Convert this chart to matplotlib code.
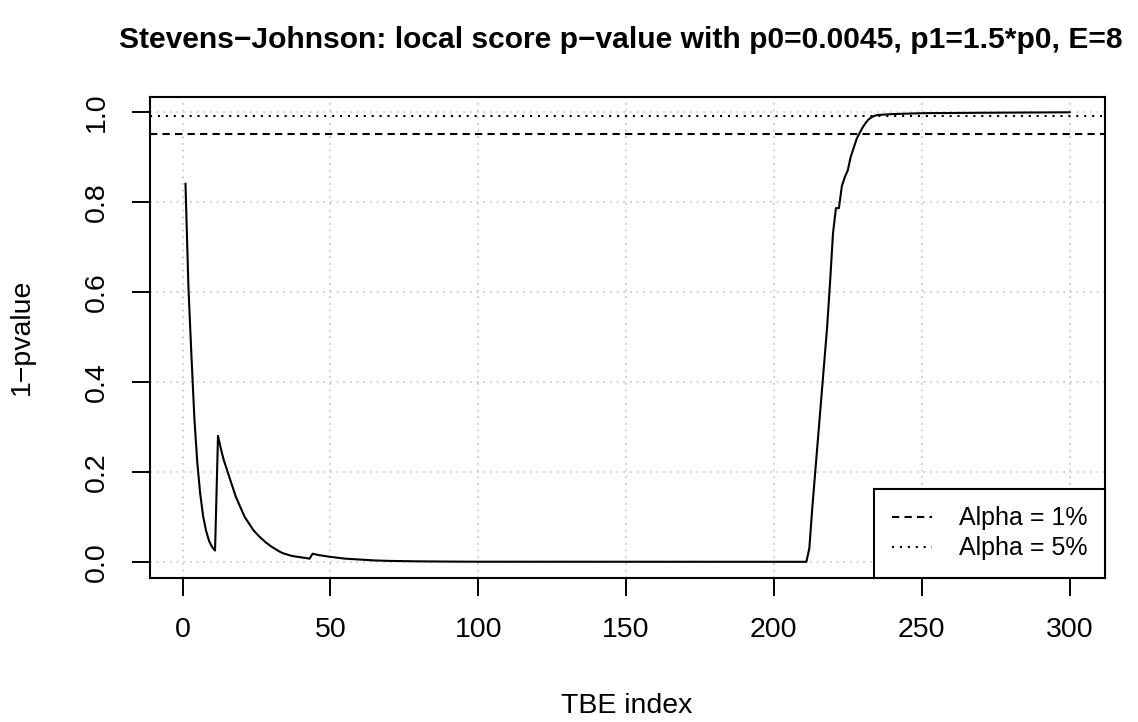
import matplotlib
matplotlib.use("Agg")
import matplotlib.pyplot as plt
from matplotlib.lines import Line2D

plt.rcParams['font.family'] = ['Liberation Sans', 'DejaVu Sans']

# data (TBE index -> 1-pvalue)
tbe_index = [1, 2, 3, 4, 5, 6, 7, 8, 9, 10, 11,
             12, 13, 14, 15, 16, 17, 18, 19, 20, 21, 22, 23, 24, 25, 26, 27,
             28, 29, 30, 31, 32, 33, 34, 35, 36, 37, 38, 39, 40, 41, 42, 43,
             44, 46, 48, 50, 55, 60, 65, 70, 80, 90, 100,
             211, 212, 213, 214, 215, 216, 217, 218, 219, 220, 221, 222,
             223, 224, 225, 226, 227, 228, 229, 230, 231, 232, 233, 234, 235,
             240, 250, 270, 300]
one_minus_p = [0.84, 0.61, 0.46, 0.32, 0.22, 0.15, 0.10, 0.068, 0.046, 0.033, 0.025,
               0.28, 0.25, 0.225, 0.205, 0.185, 0.165, 0.145, 0.13, 0.115, 0.10, 0.09,
               0.08, 0.07, 0.063, 0.056, 0.05, 0.044, 0.039, 0.034, 0.030, 0.026,
               0.022, 0.019, 0.017, 0.015, 0.013, 0.012, 0.011, 0.010, 0.009, 0.008, 0.007,
               0.018, 0.015, 0.013, 0.011, 0.007, 0.005, 0.003, 0.002, 0.001, 0.0005, 0.0002,
               0.0, 0.03, 0.12, 0.20, 0.28, 0.36, 0.44, 0.52, 0.62, 0.73, 0.786, 0.786,
               0.835, 0.855, 0.87, 0.90, 0.92, 0.94, 0.953, 0.965, 0.975, 0.983, 0.988,
               0.991, 0.993, 0.995, 0.997, 0.998, 0.999]

alpha_levels = [0.95, 0.99]
alpha_labels = ["Alpha = 1%", "Alpha = 5%"]
alpha_dashes = [(3.5, 2.5), (1, 2.8)]

x_ticks = [0, 50, 100, 150, 200, 250, 300]
y_ticks = [0.0, 0.2, 0.4, 0.6, 0.8, 1.0]

fig = plt.figure(figsize=(11.38, 7.22), dpi=100)
ax = fig.add_axes([150 / 1138, 1 - 578 / 722, 955 / 1138, 481 / 722])

# grid like R's grid()
for xv in x_ticks:
    ax.axvline(xv, color='#c4c4c4', lw=1.2, dashes=(1, 3), zorder=0)
for yv in y_ticks:
    ax.axhline(yv, color='#c4c4c4', lw=1.2, dashes=(1, 3), zorder=0)

ax.plot(tbe_index, one_minus_p, color='black', lw=1.5, zorder=3)

handles = []
for lev, lab, d in zip(alpha_levels, alpha_labels, alpha_dashes):
    ax.axhline(lev, color='black', lw=1.5, dashes=d, zorder=2)
    handles.append(Line2D([0], [0], color='black', lw=1.5, dashes=d, label=lab))

ax.set_xlim(-11, 312)
ax.set_ylim(-0.036, 1.033)
ax.set_xticks(x_ticks)
ax.set_yticks(y_ticks)
ax.set_xticklabels([str(v) for v in x_ticks])
ax.set_yticklabels(["%.1f" % v for v in y_ticks], rotation=90, va='center')
ax.tick_params(axis='both', labelsize=20.5, length=13, width=1.4, direction='out')
ax.tick_params(axis='x', pad=15)
ax.tick_params(axis='y', pad=16)
for sp in ax.spines.values():
    sp.set_linewidth(1.5)

leg = ax.legend(handles=handles, loc='lower right', borderaxespad=0,
                fontsize=18, frameon=True, fancybox=False, handlelength=1.6,
                handletextpad=1.1, labelspacing=0.25, borderpad=0.7)
leg.get_frame().set_edgecolor('black')
leg.get_frame().set_linewidth(1.5)
leg.get_frame().set_alpha(1)

fig.text(621 / 1138, 1 - 40 / 722,
         "Stevens\u2212Johnson: local score p\u2212value with p0=0.0045, p1=1.5*p0, E=8",
         ha='center', va='center', fontsize=21.6, fontweight='bold')
fig.text(627 / 1138, 1 - 706 / 722, "TBE index", ha='center', va='center', fontsize=20.5)
fig.text(22 / 1138, 1 - 337 / 722, "1\u2212pvalue", ha='center', va='center',
         rotation=90, fontsize=20.5)

fig.savefig("out.png", dpi=100)
